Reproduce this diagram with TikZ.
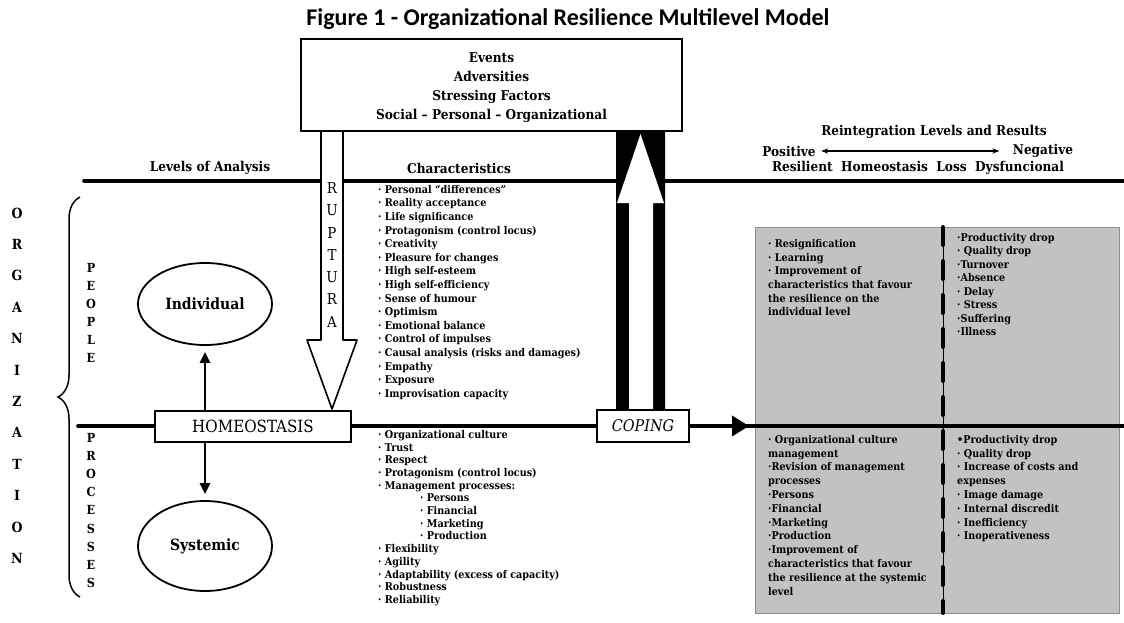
\documentclass[tikz,border=0pt]{standalone}
\usepackage{fontspec}
\setmainfont{DejaVu Serif Condensed}
\newfontfamily\titlefont{Carlito}
\usetikzlibrary{arrows.meta,calc,shapes.geometric,decorations.pathreplacing,positioning}
\usepackage{tkz-euclide}
\definecolor{PanelClr}{gray}{0.76}
\definecolor{PanelEdge}{gray}{0.55}

\begin{document}
\begin{tikzpicture}[x=1pt,y=-1pt,
  hdr/.style={font=\bfseries\fontsize{13.5}{16}\selectfont},
  listtxt/.style={font=\bfseries\fontsize{10.7}{13.6}\selectfont,align=left,anchor=north west,inner sep=0pt},
  vletter/.style={font=\bfseries\fontsize{12.5}{12.5}\selectfont,inner sep=0pt},
  blockbox/.style={draw,line width=2pt,fill=white,inner sep=0pt},
  oval/.style={draw,ellipse,line width=1.8pt,inner sep=0pt,font=\bfseries\fontsize{15.5}{15.5}\selectfont},
  link/.style={line width=2.4pt,-{Triangle[length=11pt,width=10pt]},shorten >=6pt}]
\useasboundingbox (0,0) rectangle (1124,622);
\tkzSetUpLine[line width=3.6pt,color=black]

% grey result panels
\tkzDefPoints{755/227/P1,1119/227/P2,1119/613/P3,755/613/P4}
\tkzFillPolygon[fill=PanelClr](P1,P2,P3,P4)
\tkzDrawPolygon[line width=0.8pt,color=PanelEdge](P1,P2,P3,P4)
\tkzDefPoints{943/227/D1,943/613/D2}
\tkzDrawSegment[line width=0.8pt](D1,D2)
\tkzDrawSegment[line width=4pt,dash pattern=on 18pt off 16pt](D1,D2)

% level lines
\tkzDefPoints{84/181/L1,1124/181/L2,78/426/M1,1124/426/M2}
\tkzDrawSegments(L1,L2 M1,M2)

% ruptura arrow
\tkzDefPoints{321/131/R1,321/340/R2,307/340/R3,332/409/R4,357/340/R5,343/340/R6,343/131/R7}
\tkzFillPolygon[fill=white](R1,R2,R3,R4,R5,R6,R7)
\tkzDrawPolygon[line width=1.6pt](R1,R2,R3,R4,R5,R6,R7)
\foreach \c [count=\i from 0] in {R,U,P,T,U,R,A}
  \node[font=\fontsize{15}{15}\selectfont,inner sep=0pt] (rup\i) at (332,{188+22.3*\i}) {\c};

% coping arrow
\tkzDefPoints{616/131/C1,665/131/C2,665/411/C3,616/411/C4}
\tkzFillPolygon[fill=black](C1,C2,C3,C4)
\tkzDefPoints{629/411/K1,629/203/K2,617/203/K3,640.5/134/K4,664/203/K5,653/203/K6,653/411/K7}
\tkzFillPolygon[fill=white](K1,K2,K3,K4,K5,K6,K7)

\node[font=\titlefont\bfseries\fontsize{24}{28}\selectfont] (title) at (568,19) {Figure 1 - Organizational Resilience Multilevel Model};
\node[blockbox,minimum width=381pt,minimum height=92pt] (events) at (491.5,85) {};
\node[align=center,font=\bfseries\fontsize{13.5}{19}\selectfont] (eventtxt) at (491.5,88) {Events\\Adversities\\Stressing Factors\\Social – Personal – Organizational};

\node[hdr] (levels) at (210,168) {Levels of Analysis};
\node[hdr] (charac) at (459,168) {Characteristics};
\node[hdr] (reint) at (934,132) {Reintegration Levels and Results};
\node[hdr] (pos) at (789,151) {Positive};
\node[hdr] (neg) at (1043,151) {Negative};
\node[hdr] (scale) at (918,168) {Resilient\ \ Homeostasis\ \ Loss\ \ Dysfuncional};
\draw[line width=1.1pt,{Stealth[length=7pt]}-{Stealth[length=7pt]},shorten <=2pt,shorten >=10pt] (pos.east) -- (neg.west);

% organization side
\foreach \c [count=\i from 0] in {O,R,G,A,N,I,Z,A,T,I,O,N}
  \node[vletter,font=\bfseries\fontsize{14}{14}\selectfont] (org\i) at (17,{213+31.4*\i}) {\c};
\draw[decorate,decoration={brace,amplitude=22pt},line width=1.5pt] (80,597) -- (80,197);
\foreach \c [count=\i from 0] in {P,E,O,P,L,E}
  \node[vletter] (ppl\i) at (91,{268+18*\i}) {\c};
\foreach \c [count=\i from 0] in {P,R,O,C,E,S,S,E,S}
  \node[vletter] (prc\i) at (91,{438+18.1*\i}) {\c};

\node[blockbox,minimum width=196pt,minimum height=31pt,font=\fontsize{16.8}{16.8}\selectfont] (homeo) at (253,426) {HOMEOSTASIS};
\node[oval,minimum width=134pt,minimum height=82pt] (indiv) at (205,304) {Individual};
\node[oval,minimum width=134pt,minimum height=90pt] (syst) at (205,546) {Systemic};
\draw[link] (homeo.north -| indiv.south) -- (indiv.south);
\draw[link] (homeo.south -| syst.north) -- (syst.north);

\node[blockbox,minimum width=92pt,minimum height=32pt,font=\itshape\fontsize{16}{16}\selectfont] (coping) at (643,426) {COPING};
\coordinate (pend) at (749,426);
\draw[line width=3.6pt,-{Triangle[length=17pt,width=20pt]}] (coping.east) -- (pend);

% characteristics
\node[listtxt] (charpeople) at (378,185) {· Personal “differences”\\· Reality acceptance\\· Life significance\\· Protagonism (control locus)\\· Creativity\\· Pleasure for changes\\· High self-esteem\\· High self-efficiency\\· Sense of humour\\· Optimism\\· Emotional balance\\· Control of impulses\\· Causal analysis (risks and damages)\\· Empathy\\· Exposure\\· Improvisation capacity};
\node[listtxt,font=\bfseries\fontsize{10.7}{12.7}\selectfont] (charproc) at (378,430) {· Organizational culture\\· Trust\\· Respect\\· Protagonism (control locus)\\· Management processes:\\\hspace*{42pt}· Persons\\\hspace*{42pt}· Financial\\\hspace*{42pt}· Marketing\\\hspace*{42pt}· Production\\· Flexibility\\· Agility\\· Adaptability (excess of capacity)\\· Robustness\\· Reliability};

% results
\node[listtxt,font=\bfseries\fontsize{10.7}{13.7}\selectfont] (respos) at (768,239) {· Resignification\\· Learning\\· Improvement of\\characteristics that favour\\the resilience on the\\individual level};
\node[listtxt,font=\bfseries\fontsize{10.7}{13.5}\selectfont] (resneg) at (957,233) {·Productivity drop\\· Quality drop\\·Turnover\\·Absence\\· Delay\\· Stress\\·Suffering\\·Illness};
\node[listtxt,font=\bfseries\fontsize{10.7}{13.8}\selectfont] (procpos) at (768,435) {· Organizational culture\\management\\·Revision of management\\processes\\·Persons\\·Financial\\·Marketing\\·Production\\·Improvement of\\characteristics that favour\\the resilience at the systemic\\level};
\node[listtxt,font=\bfseries\fontsize{10.7}{13.8}\selectfont] (procneg) at (957,435) {•Productivity drop\\· Quality drop\\· Increase of costs and\\expenses\\· Image damage\\· Internal discredit\\· Inefficiency\\· Inoperativeness};
\end{tikzpicture}
\end{document}
